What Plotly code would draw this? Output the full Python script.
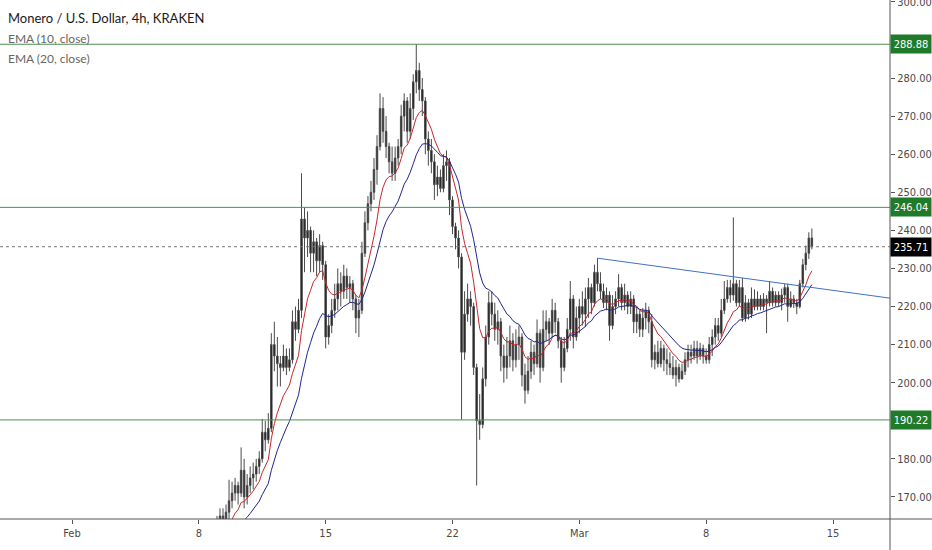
"""Monero / U.S. Dollar 4h chart with EMA 10/20, support lines and a falling trendline"""

from typing import Any, Dict, List

import pandas as pd
import plotly.graph_objects as go

# 4h closes before the visible window (all below the price range), only used to seed the EMAs
warmup_close: List[float] = [
    138, 140, 139, 142, 141, 143,  # Feb 4
    144, 146, 145, 148, 150, 149,  # Feb 5
    151, 150, 152, 153, 151, 152,  # Feb 6
    150, 148, 151, 153, 152, 154,  # Feb 7
    155, 157, 156, 159, 160, 162,  # Feb 8
]

first_open: float = 162.0
first_bar: str = "2021-02-09 00:00"

# 4h bars, six per line (one day)
close: List[float] = [
    163, 165, 164, 166, 169, 171,  # Feb 9
    173, 171, 177, 170, 173, 175,  # Feb 10
    176, 178, 180, 187, 185, 188,  # Feb 11
    210, 207, 205, 204, 207, 204,  # Feb 12
    206, 216, 214, 219, 243, 238,  # Feb 13
    240, 234, 237, 232, 236, 231,  # Feb 14
    212, 215, 219, 222, 226, 224,  # Feb 15
    228, 225, 226, 222, 217, 219,  # Feb 16
    234, 242, 247, 250, 256, 262,  # Feb 17
    272, 266, 262, 258, 255, 259,  # Feb 18
    262, 270, 274, 266, 272, 279,  # Feb 19
    282, 277, 274, 264, 261, 258,  # Feb 20
    252, 254, 251, 257, 258, 248,  # Feb 21
    241, 238, 233, 208, 218, 222,  # Feb 22
    220, 204, 190, 189, 201, 212,  # Feb 23
    221, 218, 214, 216, 207, 204,  # Feb 24
    207, 211, 206, 210, 212, 202,  # Feb 25
    198, 203, 208, 205, 213, 204,  # Feb 26
    214, 216, 213, 219, 216, 211,  # Feb 27
    204, 209, 214, 222, 212, 217,  # Feb 28
    220, 218, 222, 225, 221, 229,  # Mar 1
    226, 224, 221, 223, 215, 220,  # Mar 2
    222, 225, 221, 223, 220, 222,  # Mar 3
    216, 218, 214, 217, 219, 216,  # Mar 4
    206, 208, 205, 209, 206, 205,  # Mar 5
    204, 202, 204, 201, 203, 206,  # Mar 6
    208, 207, 209, 207, 209, 207,  # Mar 7
    206, 210, 212, 215, 213, 219,  # Mar 8
    222, 225, 223, 226, 221, 225,  # Mar 9
    217, 221, 218, 222, 220, 222,  # Mar 10
    220, 222, 221, 224, 221, 223,  # Mar 11
    221, 223, 225, 220, 222, 221,  # Mar 12
    220, 226, 231, 234, 238, 235.71,  # Mar 13
]

high: List[float] = [
    165, 167, 167, 168, 174.5, 174,
    175, 174, 183, 180, 176, 178,
    179, 180, 182, 190.5, 190, 192,
    213, 216, 212, 207, 210, 209,
    209, 219, 220, 222, 255, 246,
    245, 241, 240, 238, 239, 237,
    232, 218, 222, 226, 230, 229,
    231, 230, 228, 227, 223, 222,
    237, 245, 249, 253, 259, 265,
    276, 275, 270, 263, 262, 262,
    264, 273, 276, 275, 276, 281,
    288.9, 284, 280, 275, 266, 264,
    260, 257, 256, 260, 261, 259,
    249, 242, 240, 234, 224, 226,
    224, 221, 205, 197, 204, 215,
    224, 224, 221, 219, 217, 210,
    212, 215, 213, 214, 215, 213,
    205, 207, 211, 210, 216.6, 214,
    219, 219, 217, 222, 221, 217,
    212, 212, 217, 226.7, 223, 220,
    222, 224, 225, 227.5, 226, 231,
    232.7, 229, 226, 225, 224, 223,
    224, 228.5, 226, 226, 224, 224,
    223, 220, 219, 219.6, 221, 220,
    218, 210, 211, 211, 210, 209,
    208, 207, 206, 205, 205, 208,
    210, 210, 211, 211, 210.5, 210,
    209, 212, 214, 217, 217, 222,
    226.7, 227, 227, 243.4, 227, 227,
    227.5, 223, 222, 225, 224.5, 224,
    223, 223.5, 223, 226.7, 225, 224,
    224, 224.7, 226, 226, 224, 223,
    222, 227, 232.5, 236, 239.5, 240.5,
]

low: List[float] = [
    160, 162, 161, 163, 164, 167,
    169, 168, 170, 167, 168, 171,
    172, 174, 176, 179, 182, 184,
    187, 203, 199, 199, 203, 202,
    203, 205, 211, 213, 217, 229,
    233, 229, 229, 228, 229, 227,
    209, 210, 213, 217, 219, 220,
    222, 222, 221, 219, 213, 212,
    218, 233, 240, 245, 248, 252,
    261, 263, 259, 255, 253, 253,
    257, 260, 266, 263, 264, 269,
    276, 274, 270, 260, 257, 255,
    248, 249, 250, 250, 253, 244,
    239, 235, 230, 190.3, 206, 216,
    215, 202, 173, 185, 188, 199,
    210, 215, 211, 210, 203, 200,
    201, 204, 203, 204, 206, 199,
    194.5, 197, 201, 202, 204, 200,
    203, 211, 210, 212, 213, 209,
    200, 203, 208, 211, 209, 211,
    213, 215, 214.6, 217, 218, 220,
    224, 222, 219.6, 219, 211, 214,
    218, 220, 219, 219, 218, 218,
    213, 213, 212, 212, 214, 213,
    204, 203.5, 204, 204, 203, 202,
    202, 201, 199, 200, 200.8, 202,
    204, 205, 206, 205, 206, 205,
    205, 205, 207, 210, 211, 212,
    218, 221, 221, 221.5, 220, 220,
    216, 216, 216.6, 217, 219, 219,
    219, 219, 213, 220, 220, 220,
    220, 219, 221, 216, 219.6, 219.6,
    218, 219.5, 225, 229.5, 232.5, 235,
]

# horizontal levels drawn on the chart and the last price
levels: List[float] = [288.88, 246.04, 190.22]
last_price: float = 235.71

# hand drawn trendline (start on Mar 2 high, runs off the right edge)
trend_dates: List[str] = ["2021-03-02 00:00", "2021-03-18 03:30"]
trend_prices: List[float] = [232.7, 222.2]

x_tick_dates: List[str] = [
    "2021-02-01", "2021-02-08", "2021-02-15", "2021-02-22",
    "2021-03-01", "2021-03-08", "2021-03-15",
]
x_tick_text: List[str] = ["Feb", "8", "15", "22", "Mar", "8", "15"]
# 190 and 290 sit under the level boxes in the original, so they are left out
y_ticks: List[int] = [170, 180, 200, 210, 220, 230, 240, 250, 260, 270, 280, 300]

x_range: List[str] = ["2021-01-28 00:37", "2021-03-18 03:30"]
y_range: List[float] = [164.2, 300.5]

# ---------------------------------------------------------------------------
dates = pd.date_range(first_bar, periods=len(close), freq="4h")
opens: List[float] = [first_open] + close[:-1]

all_close = pd.Series(warmup_close + close)
ema10 = all_close.ewm(span=10, adjust=False).mean().iloc[len(warmup_close):]
ema20 = all_close.ewm(span=20, adjust=False).mean().iloc[len(warmup_close):]

GREEN_LINE = "#4f8f4f"
GREEN_BOX = "#1f7a2a"
AXIS = "#555555"
FONT = "Lato, 'Open Sans', sans-serif"
NARROW = "'DejaVu Sans Condensed', 'Liberation Sans Narrow', Roboto, sans-serif"

fig: go.Figure = go.Figure()

fig.add_trace(
    go.Candlestick(
        x=dates,
        open=opens,
        high=high,
        low=low,
        close=close,
        increasing={"line": {"color": "#4a4a4a", "width": 1}, "fillcolor": "#111111"},
        decreasing={"line": {"color": "#4a4a4a", "width": 1}, "fillcolor": "#111111"},
        whiskerwidth=0,
        hoverinfo="skip",
    )
)
fig.add_trace(
    go.Scatter(x=dates, y=ema10, mode="lines", line={"color": "#c8262b", "width": 1})
)
fig.add_trace(
    go.Scatter(x=dates, y=ema20, mode="lines", line={"color": "#22248f", "width": 1})
)
fig.add_trace(
    go.Scatter(
        x=trend_dates, y=trend_prices, mode="lines",
        line={"color": "#3d72c2", "width": 1}, cliponaxis=True,
    )
)

shapes: List[Dict[str, Any]] = []
for level in levels:
    shapes.append(
        {
            "type": "line", "xref": "paper", "yref": "y",
            "x0": 0, "x1": 1, "y0": level, "y1": level,
            "line": {"color": GREEN_LINE, "width": 1},
        }
    )
shapes.append(
    {
        "type": "line", "xref": "paper", "yref": "y",
        "x0": 0, "x1": 1, "y0": last_price, "y1": last_price,
        "line": {"color": "#777777", "width": 1, "dash": "dot"},
    }
)
# axis borders running out to the edges of the page, like the original
shapes.append(
    {
        "type": "line", "xref": "paper", "yref": "paper",
        "x0": 0, "x1": 932 / 890, "y0": 0, "y1": 0,
        "line": {"color": AXIS, "width": 1},
    }
)
shapes.append(
    {
        "type": "line", "xref": "paper", "yref": "paper",
        "x0": 1, "x1": 1, "y0": -31 / 519, "y1": 1,
        "line": {"color": AXIS, "width": 1},
    }
)

annotations: List[Dict[str, Any]] = []
for level in levels:
    annotations.append(
        {
            "xref": "paper", "yref": "y", "x": 1, "y": level,
            "xanchor": "left", "yanchor": "middle", "xshift": 0,
            "text": f"{level:.2f}", "showarrow": False,
            "bgcolor": GREEN_BOX, "width": 40, "height": 18, "borderpad": 0,
            "font": {"family": NARROW, "size": 11, "color": "white"},
        }
    )
annotations.append(
    {
        "xref": "paper", "yref": "y", "x": 1, "y": last_price,
        "xanchor": "left", "yanchor": "middle", "xshift": 0,
        "text": f"{last_price:.2f}", "showarrow": False,
        "bgcolor": "#000000", "width": 40, "height": 18, "borderpad": 0,
        "font": {"family": NARROW, "size": 11, "color": "white"},
    }
)
legend_lines = [
    ("Monero / U.S. Dollar, 4h, KRAKEN", 18, "#1a1a1a", 13),
    ("EMA (10, close)", 38, "#666666", 12),
    ("EMA (20, close)", 58, "#666666", 12),
]
for text, top_px, color, size in legend_lines:
    annotations.append(
        {
            "xref": "paper", "yref": "paper", "x": 0, "y": 1 - top_px / 519,
            "xanchor": "left", "yanchor": "middle", "xshift": 6,
            "text": text, "showarrow": False,
            "font": {"family": FONT, "size": size, "color": color},
        }
    )

fig.update_layout(
    {
        "width": 932,
        "height": 550,
        "margin": {"l": 0, "r": 42, "t": 0, "b": 31},
        "paper_bgcolor": "white",
        "plot_bgcolor": "white",
        "showlegend": False,
        "shapes": shapes,
        "annotations": annotations,
        "xaxis": {
            "type": "date",
            "range": x_range,
            "rangeslider": {"visible": False},
            "automargin": False,
            "tickvals": x_tick_dates,
            "ticktext": x_tick_text,
            "showgrid": False,
            "zeroline": False,
            "showline": False,
            "ticks": "outside",
            "ticklen": 4,
            "tickcolor": AXIS,
            "tickfont": {"family": NARROW, "size": 11, "color": "#4a4a4a"},
        },
        "yaxis": {
            "side": "right",
            "range": y_range,
            "automargin": False,
            "tickvals": y_ticks,
            "tickformat": ".2f",
            "ticklabeloverflow": "allow",
            "showgrid": False,
            "zeroline": False,
            "showline": False,
            "ticks": "outside",
            "ticklen": 4,
            "tickcolor": AXIS,
            "tickfont": {"family": NARROW, "size": 11, "color": "#4a4a4a"},
        },
    }
)

# the page's default body margin would push the 932x550 figure off the window
fig.write_html(
    "out.html",
    config={"displayModeBar": False},
    post_script="document.body.style.margin = '0px';",
)
